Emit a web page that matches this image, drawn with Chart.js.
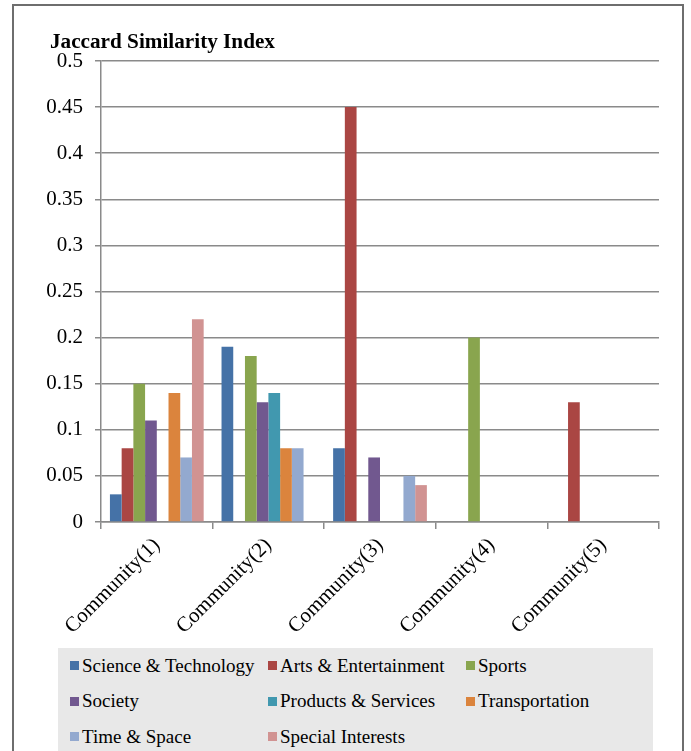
<!DOCTYPE html>
<html>
<head>
<meta charset="utf-8">
<script src="https://cdn.jsdelivr.net/npm/chart.js@4"></script>
<style>
  body { margin: 0; background: #fff; font-family: "Liberation Serif", "Times New Roman", serif; }
  #frame { position: absolute; left: 12px; top: 4px; width: 668px; height: 760px; border: 2px solid #6e6e6e; }
  #wrap { position: absolute; left: 0; top: 0; width: 691px; height: 645px; }
  #legend { position: absolute; left: 58px; top: 648px; width: 595px; height: 110px; background: #e8e8e8;
            display: grid; grid-template-columns: 198px 198px 198px; grid-auto-rows: 35.5px; padding: 0 0 0 12px;
            box-sizing: border-box; align-content: start; }
  .item { display: flex; align-items: center; font-size: 19px; color: #000; white-space: nowrap; }
  .box { width: 9px; height: 9px; margin-right: 3px; flex: none; }
</style>
</head>
<body>
<div id="frame"></div>
<div id="wrap"><canvas id="chart" width="691" height="645"></canvas></div>
<div id="legend"></div>
<script>
let categories = ['Community(1)', 'Community(2)', 'Community(3)', 'Community(4)', 'Community(5)'];
let seriesNames = ['Science & Technology', 'Arts & Entertainment', 'Sports', 'Society',
  'Products & Services', 'Transportation', 'Time & Space', 'Special Interests'];
let colors = ['#4572A7', '#AA4643', '#89A54E', '#71588F', '#4198AF', '#DB843D', '#93A9CF', '#D19392'];

let science = [0.03, 0.19, 0.08, 0, 0];
let arts = [0.08, 0, 0.45, 0, 0.13];
let sports = [0.15, 0.18, 0, 0.20, 0];
let society = [0.11, 0.13, 0.07, 0, 0];
let products = [0, 0.14, 0, 0, 0];
let transport = [0.14, 0.08, 0, 0, 0];
let timeSpace = [0.07, 0.08, 0.05, 0, 0];
let special = [0.22, 0, 0.04, 0, 0];

let seriesValues = [science, arts, sports, society, products, transport, timeSpace, special];

let serif = '"Liberation Serif", "Times New Roman", serif';

// title drawn top-left above the axis
let titlePlugin = {
  id: 'topTitle',
  afterDraw(chart) {
    let ctx = chart.ctx;
    ctx.save();
    ctx.font = 'bold 20px ' + serif;
    ctx.fillStyle = '#000';
    ctx.textBaseline = 'alphabetic';
    ctx.translate(50, 48);
    ctx.scale(1.06, 1);
    ctx.fillText('Jaccard Similarity Index', 0, 0);
    ctx.restore();
  }
};

let ctx = document.getElementById('chart').getContext('2d');
let chart = new Chart(ctx, {
  type: 'bar',
  data: {
    labels: categories,
    datasets: seriesNames.map((name, i) => ({
      label: name,
      data: seriesValues[i],
      backgroundColor: colors[i],
      borderWidth: 0,
      barPercentage: 1,
      categoryPercentage: 0.84
    }))
  },
  options: {
    responsive: false,
    animation: false,
    layout: { padding: { left: 0, right: 32, top: 61, bottom: 0 } },
    plugins: {
      legend: { display: false },
      tooltip: { enabled: false }
    },
    scales: {
      x: {
        grid: { drawOnChartArea: false, drawTicks: true, tickLength: 7, color: '#8a8a8a', lineWidth: 1.5 },
        border: { color: '#8a8a8a', width: 1.5 },
        ticks: { color: '#000', font: { family: serif, size: 21 }, minRotation: 45, maxRotation: 45, padding: 4 },
        afterFit(scale) { scale.height = 123; }
      },
      y: {
        min: 0,
        max: 0.5,
        grid: { color: '#8a8a8a', lineWidth: 1.5, tickLength: 6 },
        border: { color: '#8a8a8a', width: 1.5 },
        ticks: {
          stepSize: 0.05, color: '#000', font: { family: serif, size: 21 }, padding: 12,
          callback: v => String(+v.toFixed(2))
        },
        afterFit(scale) { scale.width = 101; }
      }
    }
  },
  plugins: [titlePlugin]
});

// legend laid out in three columns like the original
let legend = document.getElementById('legend');
chart.data.datasets.forEach(ds => {
  let item = document.createElement('div');
  item.className = 'item';
  let box = document.createElement('span');
  box.className = 'box';
  box.style.background = ds.backgroundColor;
  item.appendChild(box);
  item.appendChild(document.createTextNode(ds.label));
  legend.appendChild(item);
});
</script>
</body>
</html>
